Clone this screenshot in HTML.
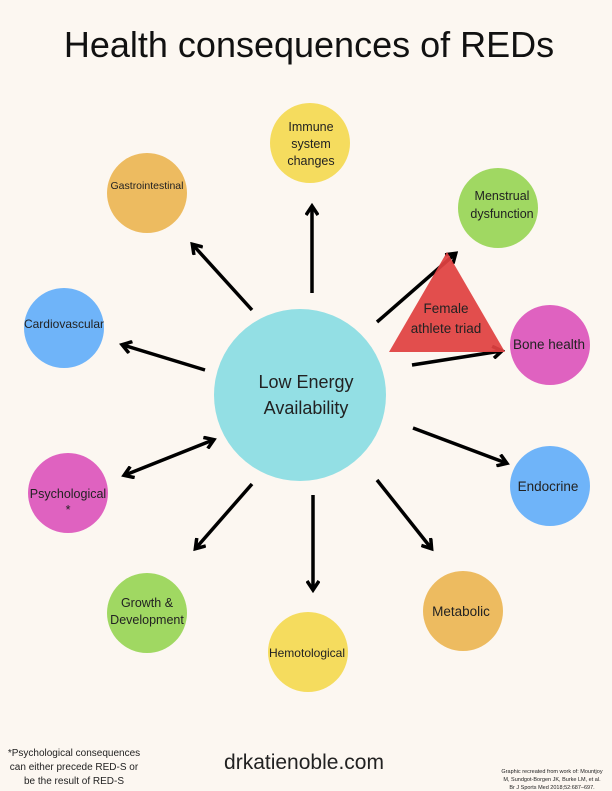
<!DOCTYPE html>
<html><head><meta charset="utf-8"><style>
html,body{margin:0;padding:0;background:#fcf7f1;}
svg{display:block;font-family:"Liberation Sans",sans-serif;}
</style></head><body>
<svg width="612" height="791" viewBox="0 0 612 791" xmlns="http://www.w3.org/2000/svg">
<defs>
<marker id="a" markerWidth="14" markerHeight="14" refX="10" refY="7" orient="auto" markerUnits="userSpaceOnUse">
<path d="M2,1 L11,7 L2,13" fill="none" stroke="#000" stroke-width="3.5"/>
</marker>
<marker id="b" markerWidth="14" markerHeight="14" refX="4" refY="7" orient="auto" markerUnits="userSpaceOnUse">
<path d="M12,1 L3,7 L12,13" fill="none" stroke="#000" stroke-width="3.5"/>
</marker>
</defs>
<rect width="612" height="791" fill="#fcf7f1"/>
<text x="309" y="57" text-anchor="middle" font-size="36" fill="#111">Health consequences of REDs</text>
<g stroke="#000" stroke-width="3.5" fill="none">
<line x1="312" y1="293" x2="312" y2="207" marker-end="url(#a)"/>
<line x1="252" y1="310" x2="193" y2="245" marker-end="url(#a)"/>
<line x1="205" y1="370" x2="123" y2="345" marker-end="url(#a)"/>
<line x1="213" y1="440" x2="125" y2="475" marker-end="url(#a)" marker-start="url(#b)"/>
<line x1="252" y1="484" x2="196" y2="548" marker-end="url(#a)"/>
<line x1="313" y1="495" x2="313" y2="589" marker-end="url(#a)"/>
<line x1="377" y1="480" x2="431" y2="548" marker-end="url(#a)"/>
<line x1="413" y1="428" x2="506" y2="463" marker-end="url(#a)"/>
<line x1="412" y1="365" x2="501" y2="351" marker-end="url(#a)"/>
<line x1="377" y1="322" x2="455" y2="254" marker-end="url(#a)"/>
</g>
<polygon points="447,252 389,352 505,352" fill="#e04141" opacity="0.93"/>
<circle cx="300" cy="395" r="86" fill="#93dfe4"/>
<circle cx="310" cy="143" r="40" fill="#f5dc5e"/>
<circle cx="147" cy="193" r="40" fill="#edbb60"/>
<circle cx="498" cy="208" r="40" fill="#a0d862"/>
<circle cx="64" cy="328" r="40" fill="#6fb4f9"/>
<circle cx="550" cy="345" r="40" fill="#df62c0"/>
<circle cx="68" cy="493" r="40" fill="#df62c0"/>
<circle cx="550" cy="486" r="40" fill="#6fb4f9"/>
<circle cx="147" cy="613" r="40" fill="#a0d862"/>
<circle cx="463" cy="611" r="40" fill="#edbb60"/>
<circle cx="308" cy="652" r="40" fill="#f5dc5e"/>
<g fill="#222" text-anchor="middle">
<text x="306" y="388" font-size="18">Low Energy</text>
<text x="306" y="414" font-size="18">Availability</text>
<text x="311" y="131" font-size="12.5">Immune</text>
<text x="311" y="148" font-size="12.5">system</text>
<text x="311" y="165" font-size="12.5">changes</text>
<text x="147" y="189" font-size="10.5">Gastrointestinal</text>
<text x="502" y="200" font-size="12.5">Menstrual</text>
<text x="502" y="218" font-size="12.5">dysfunction</text>
<text x="64" y="328" font-size="12">Cardiovascular</text>
<text x="549" y="349" font-size="13.5">Bone health</text>
<text x="446" y="313" font-size="13.5">Female</text>
<text x="446" y="333" font-size="13.5">athlete triad</text>
<text x="68" y="498" font-size="12.5">Psychological</text>
<text x="68" y="514" font-size="12.5">*</text>
<text x="548" y="491" font-size="13.5">Endocrine</text>
<text x="147" y="607" font-size="12.5">Growth &amp;</text>
<text x="147" y="624" font-size="12.5">Development</text>
<text x="461" y="616" font-size="13.5">Metabolic</text>
<text x="307" y="657" font-size="12">Hemotological</text>
<text x="304" y="769" font-size="21">drkatienoble.com</text>
<text x="74" y="756" font-size="10">*Psychological consequences</text>
<text x="74" y="770" font-size="10">can either precede RED-S or</text>
<text x="74" y="784" font-size="10">be the result of RED-S</text>
<text x="552" y="773" font-size="5.5">Graphic recreated from work of: Mountjoy</text>
<text x="552" y="781" font-size="5.5">M, Sundgot-Borgen JK, Burke LM, et al.</text>
<text x="552" y="789" font-size="5.5">Br J Sports Med 2018;52:687–697.</text>
</g>
</svg>
</body></html>
